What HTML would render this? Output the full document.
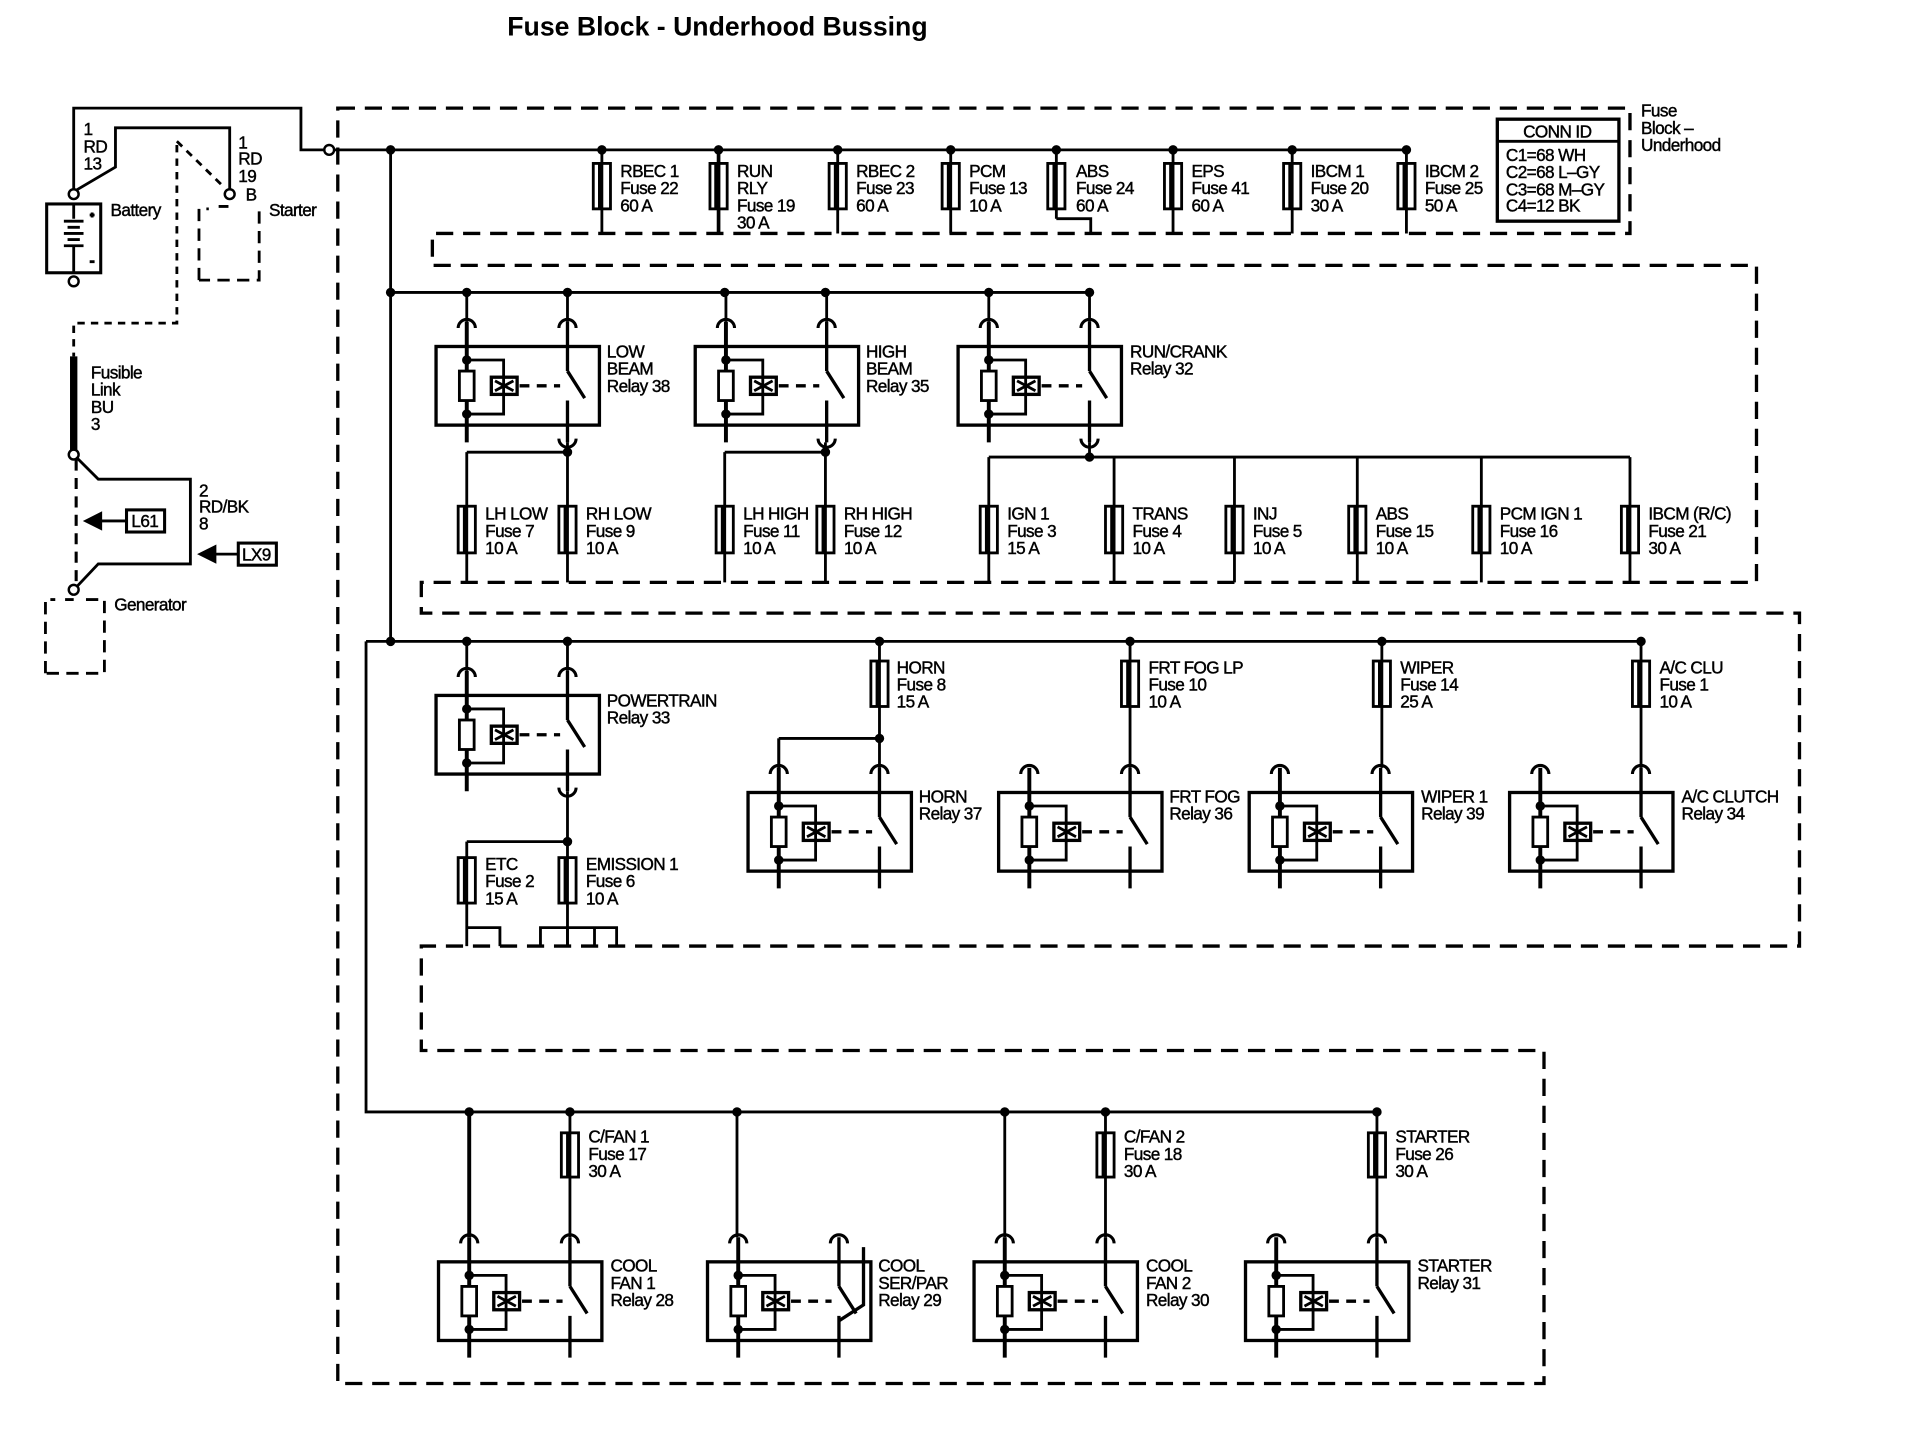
<!DOCTYPE html>
<html><head><meta charset="utf-8"><style>
html,body{margin:0;padding:0;background:#fff;}
svg{display:block;}
text{font-family:"Liberation Sans",sans-serif;font-size:14px;fill:#000;stroke:#000;stroke-width:0.35px;letter-spacing:-0.5px;}
.t{font-size:21.7px;font-weight:bold;letter-spacing:0;stroke-width:0;}
</style></head><body>
<svg id="s" width="1926" height="1440" viewBox="0 0 1568 1172" preserveAspectRatio="none" xmlns="http://www.w3.org/2000/svg">
<rect width="1568" height="1172" fill="#fff" stroke="none"/>
<g id="g" fill="none" stroke="#000" stroke-width="2.3"></g>
<text class="t" x="413" y="29">Fuse Block - Underhood Bussing</text>
<text x="68" y="110">1</text><text x="68" y="124">RD</text><text x="68" y="138">13</text>
<text x="194" y="121">1</text><text x="194" y="134">RD</text><text x="194" y="148">19</text><text x="200" y="163">B</text>
<text x="90" y="176">Battery</text><text x="219" y="176">Starter</text>
<text x="74" y="308">Fusible</text><text x="74" y="322">Link</text><text x="74" y="336">BU</text><text x="74" y="350">3</text>
<text x="162" y="404">2</text><text x="162" y="417">RD/BK</text><text x="162" y="431">8</text>
<text x="107" y="429">L61</text><text x="197" y="456">LX9</text>
<text x="93" y="497">Generator</text>
<text x="1240" y="112">CONN ID</text>
<text x="1226" y="131">C1=68 WH</text><text x="1226" y="145">C2=68 L–GY</text><text x="1226" y="159">C3=68 M–GY</text><text x="1226" y="172">C4=12 BK</text>
<text x="1336" y="95">Fuse</text><text x="1336" y="109">Block –</text><text x="1336" y="123">Underhood</text>
<text x="505" y="144">RBEC 1</text><text x="505" y="158">Fuse 22</text><text x="505" y="172">60 A</text>
<text x="600" y="144">RUN</text><text x="600" y="158">RLY</text><text x="600" y="172">Fuse 19</text><text x="600" y="186">30 A</text>
<text x="697" y="144">RBEC 2</text><text x="697" y="158">Fuse 23</text><text x="697" y="172">60 A</text>
<text x="789" y="144">PCM</text><text x="789" y="158">Fuse 13</text><text x="789" y="172">10 A</text>
<text x="876" y="144">ABS</text><text x="876" y="158">Fuse 24</text><text x="876" y="172">60 A</text>
<text x="970" y="144">EPS</text><text x="970" y="158">Fuse 41</text><text x="970" y="172">60 A</text>
<text x="1067" y="144">IBCM 1</text><text x="1067" y="158">Fuse 20</text><text x="1067" y="172">30 A</text>
<text x="1160" y="144">IBCM 2</text><text x="1160" y="158">Fuse 25</text><text x="1160" y="172">50 A</text>
<text x="494" y="291">LOW</text><text x="494" y="305">BEAM</text><text x="494" y="319">Relay 38</text>
<text x="705" y="291">HIGH</text><text x="705" y="305">BEAM</text><text x="705" y="319">Relay 35</text>
<text x="920" y="291">RUN/CRANK</text><text x="920" y="305">Relay 32</text>
<text x="395" y="423">LH LOW</text><text x="395" y="437">Fuse 7</text><text x="395" y="451">10 A</text>
<text x="477" y="423">RH LOW</text><text x="477" y="437">Fuse 9</text><text x="477" y="451">10 A</text>
<text x="605" y="423">LH HIGH</text><text x="605" y="437">Fuse 11</text><text x="605" y="451">10 A</text>
<text x="687" y="423">RH HIGH</text><text x="687" y="437">Fuse 12</text><text x="687" y="451">10 A</text>
<text x="820" y="423">IGN 1</text><text x="820" y="437">Fuse 3</text><text x="820" y="451">15 A</text>
<text x="922" y="423">TRANS</text><text x="922" y="437">Fuse 4</text><text x="922" y="451">10 A</text>
<text x="1020" y="423">INJ</text><text x="1020" y="437">Fuse 5</text><text x="1020" y="451">10 A</text>
<text x="1120" y="423">ABS</text><text x="1120" y="437">Fuse 15</text><text x="1120" y="451">10 A</text>
<text x="1221" y="423">PCM IGN 1</text><text x="1221" y="437">Fuse 16</text><text x="1221" y="451">10 A</text>
<text x="1342" y="423">IBCM (R/C)</text><text x="1342" y="437">Fuse 21</text><text x="1342" y="451">30 A</text>
<text x="494" y="575">POWERTRAIN</text><text x="494" y="589">Relay 33</text>
<text x="730" y="548">HORN</text><text x="730" y="562">Fuse 8</text><text x="730" y="576">15 A</text>
<text x="935" y="548">FRT FOG LP</text><text x="935" y="562">Fuse 10</text><text x="935" y="576">10 A</text>
<text x="1140" y="548">WIPER</text><text x="1140" y="562">Fuse 14</text><text x="1140" y="576">25 A</text>
<text x="1351" y="548">A/C CLU</text><text x="1351" y="562">Fuse 1</text><text x="1351" y="576">10 A</text>
<text x="748" y="653">HORN</text><text x="748" y="667">Relay 37</text>
<text x="952" y="653">FRT FOG</text><text x="952" y="667">Relay 36</text>
<text x="1157" y="653">WIPER 1</text><text x="1157" y="667">Relay 39</text>
<text x="1369" y="653">A/C CLUTCH</text><text x="1369" y="667">Relay 34</text>
<text x="395" y="708">ETC</text><text x="395" y="722">Fuse 2</text><text x="395" y="736">15 A</text>
<text x="477" y="708">EMISSION 1</text><text x="477" y="722">Fuse 6</text><text x="477" y="736">10 A</text>
<text x="479" y="930">C/FAN 1</text><text x="479" y="944">Fuse 17</text><text x="479" y="958">30 A</text>
<text x="915" y="930">C/FAN 2</text><text x="915" y="944">Fuse 18</text><text x="915" y="958">30 A</text>
<text x="1136" y="930">STARTER</text><text x="1136" y="944">Fuse 26</text><text x="1136" y="958">30 A</text>
<text x="497" y="1035">COOL</text><text x="497" y="1049">FAN 1</text><text x="497" y="1063">Relay 28</text>
<text x="715" y="1035">COOL</text><text x="715" y="1049">SER/PAR</text><text x="715" y="1063">Relay 29</text>
<text x="933" y="1035">COOL</text><text x="933" y="1049">FAN 2</text><text x="933" y="1063">Relay 30</text>
<text x="1154" y="1035">STARTER</text><text x="1154" y="1049">Relay 31</text>
</svg>
<script>
var g=document.getElementById('g'),NS='http://www.w3.org/2000/svg';
function el(t,a){var e=document.createElementNS(NS,t);for(var k in a)e.setAttribute(k,a[k]);g.appendChild(e);return e;}
function P(d,w,dash){var a={d:d};if(w)a['stroke-width']=w;if(dash)a['stroke-dasharray']=dash;return el('path',a);}
function dot(x,y){el('circle',{cx:x,cy:y,r:2.7,fill:'#000'});}
function circ(x,y){el('circle',{cx:x,cy:y,r:4,fill:'#fff','stroke-width':2});}
P('M275,88 H1327 V190 H352 V216 H1430 V474 H343 V499 H1465 V770 H343 V855 H1257 V1126 H275 Z',2.7,'14 8');
P('M60,158 V88 H245 V122 H1145');circ(268,122);
P('M60,156 L94,136 V104 H187 V154');circ(187,158);circ(60,158);circ(60,229);
el('rect',{x:38,y:166,width:44,height:56,'stroke-width':2.5});
P('M60,166 V178 M52,180 H68 M55,185 H65 M52,190 H68 M55,195 H65 M52,200 H68 M60,200 V222 M73,175 H77 M75,173 V177 M73,213 H77');
P('M162,228 V170 H170 M178,168 H186 M211,172 V228 H162',2.3,'10 6');
P('M144,115 L180,150',2.3,'6 5');P('M144,118 V263 H60 V290',2.3,'6 5');
P('M60,290 V367',6);circ(60,370);
P('M62,372 L80,390 H155 V459 H80 L62,478');circ(60,480);
P('M62,374 V478',2.5,'9 6');
el('rect',{x:103,y:415,width:31,height:18,'stroke-width':2.5});
el('rect',{x:194,y:442,width:31,height:18,'stroke-width':2.5});
P('M103,424 H80');el('path',{d:'M70,424 L82,418 V430 Z',fill:'#000'});
P('M194,451 H172');el('path',{d:'M163,451 L175,445 V457 Z',fill:'#000'});
P('M37,548 V488 H45 M53,488 H60 M70,488 H85 V548 H37',2.3,'10 6');
el('rect',{x:1219,y:97,width:99,height:83,'stroke-width':2.7});P('M1219,115 H1318');
P('M318,122 V522');P('M318,238 H887');P('M298,522 H1336 M298,522 V905 H1120');
[[318,122],[318,238],[318,522]].forEach(function(p){dot(p[0],p[1]);});
function fuse(x,y1,y2,w){el('rect',{x:x-7,y:y1,width:14,height:y2-y1,'stroke-width':2.3});P('M'+(x-2)+','+y1+' V'+y2,w||2.3);}
[490,585,682,774,860,955,1052,1145].forEach(function(x){dot(x,122);P('M'+x+',122 V'+(x==860?178:190),x==585?3:2.3);fuse(x,133,170,x==585?3:2.3);});
P('M860,178 H888 V190');
function arcT(x,y){P('M'+(x-7)+','+(y+5)+' A7,7 0 0 1 '+(x+7)+','+(y+5),2.5);}
function arcB(x,y){P('M'+(x-7)+','+(y-5)+' A7,7 0 0 0 '+(x+7)+','+(y-5),2.5);}
function relay(x0,y0,topY,botArc,sp){
 var c=x0+25,s=x0+107;
 el('rect',{x:x0,y:y0,width:133,height:64,'stroke-width':2.7});
 P('M'+c+','+(y0-20)+' V'+(y0+78),3.2);
 P('M'+s+','+(y0-20)+' V'+(y0+20)+' M'+s+','+(y0+20)+' L'+(s+14)+','+(y0+42)+' M'+s+','+(y0+44)+' V'+(y0+78),2.7);
 if(topY!=null){P('M'+c+','+topY+' V'+(y0-20));P('M'+s+','+topY+' V'+(y0-20));}
 arcT(c,y0-20);arcT(s,y0-20);
 el('rect',{x:c-6,y:y0+20,width:12,height:24,fill:'#fff','stroke-width':2.3});
 P('M'+c+','+(y0+11)+' H'+(c+30)+' V'+(y0+55)+' H'+c);dot(c,y0+11);dot(c,y0+55);
 el('rect',{x:c+20,y:y0+25,width:21,height:14,'stroke-width':2.7});
 P('M'+(c+23)+','+(y0+28)+' L'+(c+38)+','+(y0+36)+' M'+(c+38)+','+(y0+28)+' L'+(c+23)+','+(y0+36));
 P('M'+(c+43)+','+(y0+32)+' H'+(s-6),2.7,'8 6');
 if(botArc){arcB(s,y0+80);}
 if(sp){P('M'+(s+20)+','+(y0-12)+' V'+(y0+35)+' L'+s+','+(y0+48),2.7);}
}
relay(355,282,238,true);relay(566,282,238,true);relay(780,282,238,true);
[380,462,590,672,805,887].forEach(function(x){dot(x,238);});
P('M462,360 V474 M380,368 V474 M380,368 H462');dot(462,368);
P('M672,360 V474 M590,368 V474 M590,368 H672');dot(672,368);
P('M887,360 V372 M805,372 H1327');dot(887,372);
[805,907,1005,1105,1206,1327].forEach(function(x){P('M'+x+',372 V474');});
[380,462,590,672,805,907,1005,1105,1206,1327].forEach(function(x){fuse(x,412,450);});
relay(355,566,522,true);dot(380,522);dot(462,522);
P('M462,644 V770 M380,685 V770 M380,685 H462');dot(462,685);
fuse(380,698,735);fuse(462,698,735);
P('M380,755 H407 V770 M440,770 V755 H502 V770 M462,755 V770 M484,755 V770');
[716,920,1125,1336].forEach(function(x){dot(x,522);fuse(x,538,575);});
P('M716,522 V601 M634,601 H716 M634,601 V625');dot(716,601);
relay(609,645,601,false);
P('M920,522 V625');relay(813,645,null,false);
P('M1125,522 V625');relay(1017,645,null,false);
P('M1336,522 V625');relay(1229,645,null,false);
[382,464,600,818,900,1121].forEach(function(x){dot(x,905);});
P('M382,905 V1007',3.2);P('M600,905 V1007');P('M818,905 V1007');
P('M464,905 V1007');fuse(464,922,958);
P('M900,905 V1007');fuse(900,922,958);
P('M1121,905 V1007');fuse(1121,922,958);
relay(357,1027,null,false);relay(576,1027,null,false,true);relay(793,1027,null,false);relay(1014,1027,null,false);
</script>
</body></html>
